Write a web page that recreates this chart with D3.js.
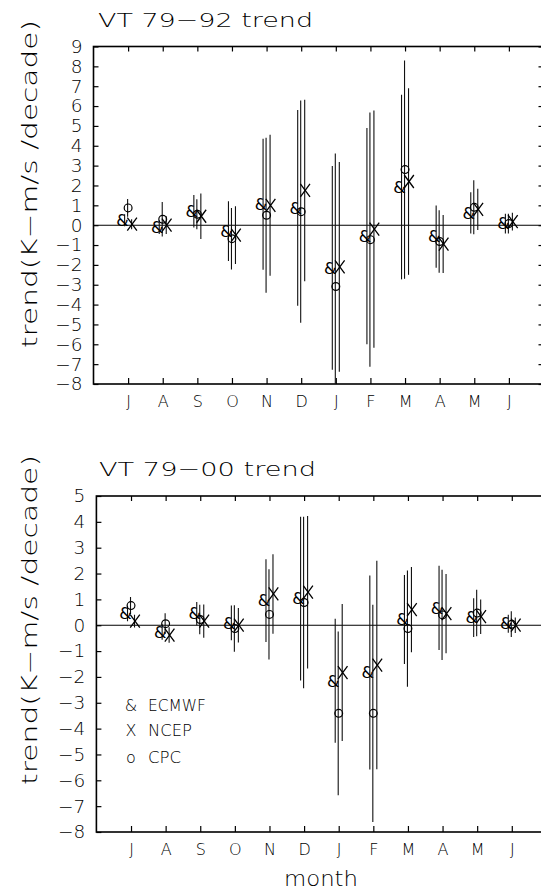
<!DOCTYPE html>
<html><head><meta charset="utf-8">
<script src="https://cdn.jsdelivr.net/npm/d3@7"></script>
<style>
body{margin:0;background:#fff}
svg{display:block}
text{font-family:"DejaVu Sans","Liberation Sans",sans-serif;font-weight:200;fill:#000}
</style>
</head><body>
<script>
// ---------- data ----------
const months = ["J","A","S","O","N","D","J","F","M","A","M","J"];
const seriesNames = ["ECMWF","NCEP","CPC"];
const seriesSymbols = ["&","X","o"];

// Panel 1: VT 79-92 trend
const ecmwf1    = [0.25,-0.10,0.70,-0.30,1.05,0.87,-2.15,-0.55,1.92,-0.58,0.62,0.08];
const ecmwf1Err = [0.30, 0.35,0.82, 1.50,3.30,4.93, 5.13, 5.45,4.65, 1.57,1.04,0.50];
const ncep1     = [0.05, 0.00,0.45,-0.50,1.00,1.75,-2.10,-0.20,2.20,-0.95,0.80,0.18];
const ncep1Err  = [0.25, 0.45,1.15, 1.45,3.55,4.57, 5.28, 5.98,4.70, 1.46,1.04,0.45];
const cpc1      = [0.87, 0.30,0.55,-0.68,0.50,0.68,-3.09,-0.73,2.80,-0.82,0.90,0.08];
const cpc1Err   = [0.45, 0.87,0.75, 1.55,3.90,5.60, 6.70, 6.40,5.50, 1.57,1.36,0.50];
const yTicks1   = d3.range(-8, 10);

// Panel 2: VT 79-00 trend
const ecmwf2    = [0.45,-0.26,0.45, 0.09,0.95,1.03,-2.15,-1.83, 0.22,0.67,0.29,0.06];
const ecmwf2Err = [0.30, 0.30,0.45, 0.67,1.60,3.17, 2.40, 3.75, 1.72,1.63,0.75,0.35];
const ncep2     = [0.16,-0.38,0.16, 0.00,1.21,1.28,-1.83,-1.54, 0.60,0.45,0.33,0.00];
const ncep2Err  = [0.25, 0.30,0.64, 0.67,1.54,2.95, 2.65, 4.03, 1.65,1.53,0.67,0.30];
const cpc2      = [0.76, 0.06,0.22,-0.13,0.42,0.88,-3.41,-3.41,-0.13,0.40,0.47,0.04];
const cpc2Err   = [0.33, 0.40,0.57, 0.90,1.75,3.32, 3.17, 4.20, 2.25,1.75,0.90,0.50];
const yTicks2   = d3.range(-8, 6);

// ---------- drawing ----------
const W = 541, H = 890;
const svg = d3.select("body").append("svg").attr("width", W).attr("height", H);

const offsets = {"&": -3.5, "X": 3.5, "o": -0.5};

function panel(cfg) {
  const x = d3.scaleLinear().domain([0, 13]).range(cfg.xr);
  const y = d3.scaleLinear().domain([cfg.ticks[0], cfg.ticks[cfg.ticks.length-1]]).range(cfg.yr);
  const g = svg.append("g");
  const clipId = "clip" + cfg.id;
  svg.append("clipPath").attr("id", clipId).append("rect")
    .attr("x", x(0)).attr("y", y.range()[1])
    .attr("width", x(13) - x(0)).attr("height", y.range()[0] - y.range()[1]);

  // title
  g.append("text").attr("x", cfg.titleX).attr("y", cfg.titleY)
    .attr("font-size", 20).attr("textLength", cfg.titleW).attr("lengthAdjust", "spacingAndGlyphs")
    .text(cfg.title);

  // left axis
  const ax = g.append("g").attr("transform", `translate(${x(0)},0)`)
    .call(d3.axisLeft(y).tickValues(cfg.ticks).tickFormat(d3.format("d"))
      .tickSizeInner(-5).tickSizeOuter(0).tickPadding(11));
  ax.select(".domain").remove();
  ax.selectAll("line").attr("stroke", "#000").attr("stroke-width", 1.2);
  ax.selectAll("text").attr("font-size", 18.5).attr("font-family", null)
    .style("font-family", '"DejaVu Sans",sans-serif').style("font-weight", 200);

  // right axis ticks
  const ar = g.append("g").attr("transform", `translate(${x(13)},0)`)
    .call(d3.axisRight(y).tickValues(cfg.ticks).tickFormat("").tickSizeInner(-5).tickSizeOuter(0));
  ar.select(".domain").remove();
  ar.selectAll("line").attr("stroke-width", 1.2);

  // bottom axis
  const monthIdx = d3.range(1, 13);
  const ab = g.append("g").attr("transform", `translate(0,${y.range()[0]})`)
    .call(d3.axisBottom(x).tickValues(monthIdx).tickFormat(i => months[i-1])
      .tickSizeInner(-6).tickSizeOuter(0).tickPadding(12));
  ab.select(".domain").remove();
  ab.selectAll("line").attr("stroke-width", 1.2);
  ab.selectAll("text").attr("font-size", 16).attr("font-family", null)
    .style("font-family", '"DejaVu Sans",sans-serif').style("font-weight", 200);

  // top axis ticks
  const at = g.append("g").attr("transform", `translate(0,${y.range()[1]})`)
    .call(d3.axisTop(x).tickValues(monthIdx).tickFormat("").tickSizeInner(-5).tickSizeOuter(0));
  at.select(".domain").remove();
  at.selectAll("line").attr("stroke-width", 1.2);

  // frame
  g.append("rect").attr("x", x(0)).attr("y", y.range()[1])
    .attr("width", x(13) - x(0)).attr("height", y.range()[0] - y.range()[1])
    .attr("fill", "none").attr("stroke", "#000").attr("stroke-width", 1.6);

  // zero line
  g.append("line").attr("x1", x(0)).attr("x2", x(13)).attr("y1", y(0)).attr("y2", y(0))
    .attr("stroke", "#000").attr("stroke-width", 1.1);

  // y-axis title
  g.append("text").attr("transform", `translate(37,${cfg.ytitleY}) rotate(-90)`)
    .attr("text-anchor", "middle").attr("font-size", 21)
    .attr("textLength", cfg.ytitleW).attr("lengthAdjust", "spacingAndGlyphs")
    .text("trend(K\u2212m/s  /decade)");

  // series
  const series = [
    {sym: "&", v: cfg.ecmwf, e: cfg.ecmwfErr},
    {sym: "X", v: cfg.ncep,  e: cfg.ncepErr},
    {sym: "o", v: cfg.cpc,   e: cfg.cpcErr}
  ];
  const bars = g.append("g").attr("clip-path", `url(#${clipId})`);
  series.forEach(s => {
    const pts = s.v.map((v, i) => ({i: i + 1, v, e: s.e[i]}));
    bars.selectAll(null).data(pts).enter().append("line")
      .attr("x1", d => x(d.i) + offsets[s.sym]).attr("x2", d => x(d.i) + offsets[s.sym])
      .attr("y1", d => y(d.v + d.e)).attr("y2", d => y(d.v - d.e))
      .attr("stroke", "#111").attr("stroke-width", 1.1);
  });
  series.forEach(s => {
    const pts = s.v.map((v, i) => ({i: i + 1, v}));
    const mg = g.append("g");
    if (s.sym === "&") {
      mg.selectAll(null).data(pts).enter().append("text")
        .attr("x", d => x(d.i) + offsets["&"] - 2).attr("y", d => y(d.v))
        .attr("dy", "0.36em").attr("text-anchor", "middle").attr("font-size", 16)
        .style("font-weight", 400).attr("fill", "#000")
        .text("&");
    } else if (s.sym === "X") {
      mg.selectAll(null).data(pts).enter().append("path")
        .attr("d", d => {
          const cx = x(d.i) + offsets["X"] + 0.5, cy = y(d.v);
          return `M${cx-4.8},${cy-6.5}L${cx+4.8},${cy+6.5}M${cx+4.8},${cy-6.5}L${cx-4.8},${cy+6.5}`;
        })
        .attr("stroke", "#000").attr("stroke-width", 1.3).attr("fill", "none");
    } else {
      mg.selectAll(null).data(pts).enter().append("circle")
        .attr("cx", d => x(d.i) + offsets["o"] + 0.5).attr("cy", d => y(d.v)).attr("r", 3.9)
        .attr("fill", "none").attr("stroke", "#000").attr("stroke-width", 1.2);
    }
  });
  return {x, y};
}

panel({
  id: 1, title: "VT 79\u221292 trend", titleX: 98, titleY: 27, titleW: 215,
  xr: [93.5, 543.5], yr: [384, 46.5], ticks: yTicks1, ytitleY: 184, ytitleW: 328,
  ecmwf: ecmwf1, ecmwfErr: ecmwf1Err, ncep: ncep1, ncepErr: ncep1Err, cpc: cpc1, cpcErr: cpc1Err
});
panel({
  id: 2, title: "VT 79\u221200 trend", titleX: 99, titleY: 476, titleW: 217,
  xr: [96.4, 546.4], yr: [832, 496], ticks: yTicks2, ytitleY: 620, ytitleW: 330,
  ecmwf: ecmwf2, ecmwfErr: ecmwf2Err, ncep: ncep2, ncepErr: ncep2Err, cpc: cpc2, cpcErr: cpc2Err
});

// legend (bottom panel)
const legendY = [705, 730, 757];
const legendW = [58, 44, 33];
const leg = svg.append("g");
seriesNames.forEach((name, k) => {
  leg.append("text").attr("x", 131).attr("y", legendY[k]).attr("dy", "0.36em")
    .attr("text-anchor", "middle").attr("font-size", 16).text(seriesSymbols[k]);
  leg.append("text").attr("x", 148).attr("y", legendY[k]).attr("dy", "0.36em")
    .attr("font-size", 16).attr("textLength", legendW[k]).attr("lengthAdjust", "spacingAndGlyphs")
    .text(name);
});

// x-axis title
svg.append("text").attr("x", 321).attr("y", 886).attr("text-anchor", "middle")
  .attr("font-size", 22).attr("textLength", 74).attr("lengthAdjust", "spacingAndGlyphs").text("month");
</script>
</body></html>
